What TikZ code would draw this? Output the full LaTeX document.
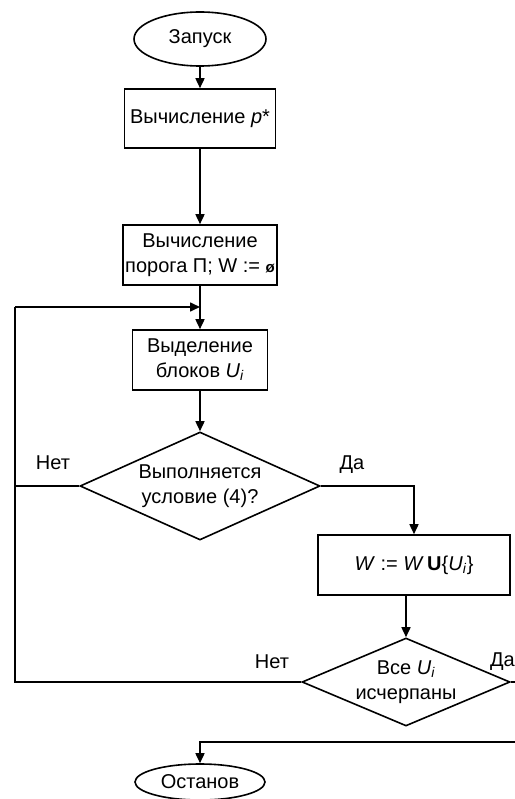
\documentclass[tikz,border=0pt]{standalone}
\usepackage{fontspec}
\setmainfont{Liberation Sans}
\usetikzlibrary{shapes.geometric,arrows.meta}
\begin{document}
\begin{tikzpicture}[x=1pt,y=-1pt,
  every node/.style={font=\fontsize{20}{25}\selectfont},
  box/.style={draw,line width=1.6pt,rectangle,inner sep=0pt,align=center},
  term/.style={draw,line width=1.6pt,ellipse,inner sep=0pt,align=center},
  dia/.style={draw,line width=1.6pt,diamond,inner sep=0pt},
  lbl/.style={inner sep=0pt,align=center},
  conn/.style={line width=1.6pt},
  arr/.style={line width=1.6pt,-{Triangle[length=10pt,width=9pt]}}]
\useasboundingbox (0,0) rectangle (514,799);
\node[term,minimum width=132pt,minimum height=54pt] (start) at (200,39) {Запуск};
\node[box,minimum width=151pt,minimum height=59pt] (b1) at (200,118.5) {Вычисление \textit{p}*};
\node[box,minimum width=154pt,minimum height=60pt] (b2) at (200,255) {Вычисление\\порога П; W := {\bfseries\fontsize{15}{15}\selectfont ø}};
\node[box,minimum width=135pt,minimum height=60pt] (b3) at (200,360) {Выделение\\блоков \textit{U}\textsubscript{\textit{i}}};
\node[dia,minimum width=240pt,minimum height=108pt] (d1) at (200,486) {};
\node[lbl] (d1t) at (d1.center) {Выполняется\\условие (4)?};
\node[box,minimum width=192pt,minimum height=60pt] (b4) at (414,565) {\textit{W} := \textit{W}\,\textbf{U}\{\textit{U}\textsubscript{\textit{i}}\}};
\node[dia,minimum width=208pt,minimum height=88pt] (d2) at (406,682) {};
\node[lbl] (d2t) at (d2.center) {Все \textit{U}\textsubscript{\textit{i}}\\исчерпаны};
\node[term,minimum width=130pt,minimum height=36pt] (stop) at (200,782) {Останов};
\node[lbl] (no1) at (53,463) {Нет};
\node[lbl] (yes1) at (352,465) {Да};
\node[lbl] (no2) at (272,662) {Нет};
\node[lbl,anchor=west] (yes2) at (490,662) {Да};
\coordinate (lc) at (15,307);
\coordinate (j1) at (200,307);
\coordinate (rc) at (530,682);
\coordinate (rb) at (530,742);
\draw[arr] (start.south) -- (b1.north);
\draw[arr] (b1.south) -- (b2.north);
\draw[arr] (b2.south) -- (b3.north);
\draw[arr] (b3.south) -- (d1.north);
\draw[conn] (d1.west) -| (lc);
\draw[arr] (lc) -- (j1);
\draw[arr] (d1.east) -| (b4.north);
\draw[arr] (d2.north |- b4.south) -- (d2.north);
\draw[conn] (d2.west) -| (lc);
\draw[conn] (d2.east) -- (rc) -- (rb);
\draw[arr] (rb) -| (stop.north);
\end{tikzpicture}
\end{document}
